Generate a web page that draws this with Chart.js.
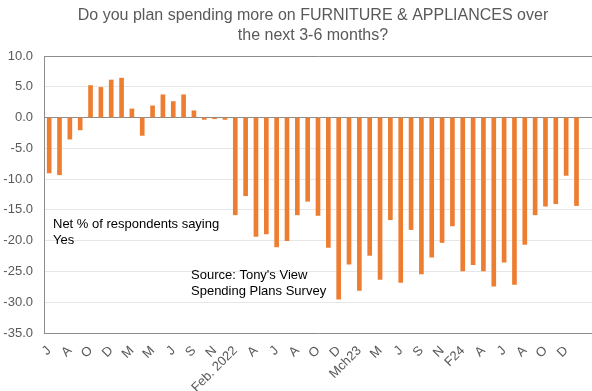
<!DOCTYPE html>
<html>
<head>
<meta charset="utf-8">
<script src="https://cdn.jsdelivr.net/npm/chart.js@4/dist/chart.umd.min.js"></script>
<style>
  html, body { margin: 0; padding: 0; background: #fff; }
  #wrap { width: 592px; height: 391px; }
</style>
</head>
<body>
<div id="wrap"><canvas id="spendChart"></canvas></div>
<script>
"use strict"

// survey months, Jun 2020 onwards (no January survey); last slot is spare
const months = ['J', 'J', 'A', 'S', 'O', 'N', 'D', 'F', 'M', 'A',
  'M', 'J', 'J', 'A', 'S', 'O', 'N', 'D', 'Feb. 2022', 'M',
  'A', 'M', 'J', 'J', 'A', 'S', 'O', 'N', 'D', 'F',
  'Mch23', 'A', 'M', 'J', 'J', 'A', 'S', 'O', 'N', 'D',
  'F24', 'M', 'A', 'M', 'J', 'J', 'A', 'S', 'O', 'N',
  'D', 'F', ''];

// net % saying yes
const netYes = [-9.0, -9.3, -3.5, -2.0, 5.2, 4.9, 6.1, 6.4, 1.4, -2.9,
  1.9, 3.7, 2.6, 3.7, 1.1, -0.3, -0.2, -0.3, -15.8, -12.7,
  -19.3, -18.9, -21.0, -20.0, -15.8, -13.6, -15.9, -21.1, -29.5, -23.8,
  -28.1, -22.4, -26.3, -16.6, -26.8, -18.2, -25.4, -22.7, -20.3, -17.6,
  -24.9, -23.9, -24.9, -27.4, -23.5, -27.1, -20.6, -15.8, -14.4, -14.0,
  -9.4, -14.3, null];

const yTicks = { min: -35, max: 10, step: 5 };

const titleLines = ['Do you plan spending more on FURNITURE & APPLIANCES over', 'the next 3-6 months?'];
const noteLines = ['Net % of respondents saying', 'Yes'];
const sourceLines = ["Source: Tony's View", 'Spending Plans Survey'];

const axisGrey = '#595959';
const fontFamily = '"Liberation Sans", Arial, sans-serif';

// title sits over the plot area, plus the two free text boxes
const textPlugin = {
  id: 'texts',
  afterDraw(chart) {
    const ctx = chart.ctx;
    const area = chart.chartArea;
    ctx.save();
    ctx.textBaseline = 'middle';

    ctx.font = '16px ' + fontFamily;
    ctx.fillStyle = axisGrey;
    ctx.textAlign = 'center';
    const cx = (area.left + area.right) / 2 - 5;
    titleLines.forEach((t, i) => ctx.fillText(t, cx, 16 + i * 20));

    ctx.font = '13px ' + fontFamily;
    ctx.fillStyle = '#000';
    ctx.textAlign = 'left';
    noteLines.forEach((t, i) => ctx.fillText(t, 53, 224 + i * 16));
    sourceLines.forEach((t, i) => ctx.fillText(t, 191, 275 + i * 16));
    ctx.restore();
  }
};

new Chart(document.getElementById('spendChart'), {
  type: 'bar',
  data: {
    labels: months,
    datasets: [{
      data: netYes,
      backgroundColor: '#ED7D31',
      barThickness: 4
    }]
  },
  options: {
    responsive: true,
    maintainAspectRatio: false,
    animation: false,
    layout: { padding: { left: 0, right: 0, top: 56, bottom: 0 } },
    plugins: {
      legend: { display: false },
      tooltip: { enabled: false },
      title: { display: false }
    },
    scales: {
      x: {
        grid: { display: false },
        border: { display: true, color: '#8c8c8c', width: 1 },
        ticks: {
          autoSkip: false,
          maxRotation: 45,
          minRotation: 45,
          color: axisGrey,
          padding: 2,
          font: { family: fontFamily, size: 13 },
          callback: (val, i) => i % 2 === 0 ? months[i] : ''
        },
        afterFit: scale => {
          scale.height = 58;
          // let the plot run to the right edge
          scale.paddingLeft = 0;
          scale.paddingRight = 0;
        }
      },
      y: {
        min: yTicks.min,
        max: yTicks.max,
        border: { display: true, color: '#8c8c8c', width: 1 },
        grid: {
          drawTicks: false,
          color: c => (c.tick.value === 0 || c.tick.value === yTicks.max) ? '#8c8c8c' : '#e6e6e6',
          lineWidth: 1
        },
        ticks: {
          stepSize: yTicks.step,
          color: axisGrey,
          padding: 11,
          font: { family: fontFamily, size: 13 },
          callback: v => v.toFixed(1)
        },
        afterFit: scale => { scale.width = 44; }
      }
    }
  },
  plugins: [textPlugin]
});
</script>
</body>
</html>
